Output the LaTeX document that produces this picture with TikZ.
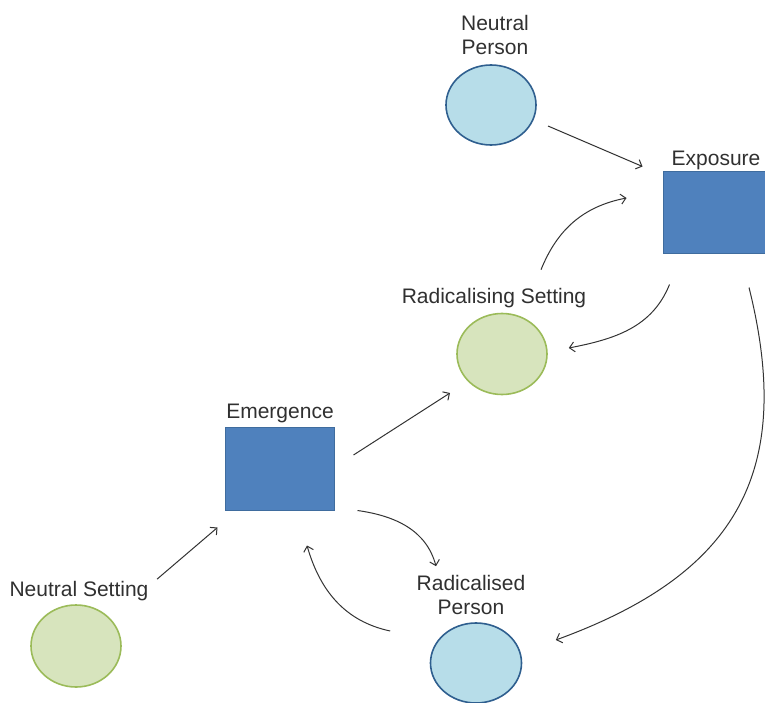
\documentclass[tikz,border=0pt]{standalone}
\usepackage{fontspec}
\setmainfont{Liberation Sans}
\usetikzlibrary{arrows.meta,shapes.geometric}
\definecolor{pfill}{HTML}{B7DDE9}
\definecolor{pdraw}{HTML}{2F5F8F}
\definecolor{sfill}{HTML}{D7E4BD}
\definecolor{sdraw}{HTML}{9BBB59}
\definecolor{bfill}{HTML}{4F81BD}
\definecolor{bdraw}{HTML}{3F6C9E}
\definecolor{txt}{HTML}{303030}
\definecolor{arrc}{HTML}{333333}
\begin{document}
\begin{tikzpicture}[x=1pt,y=1pt,
  person/.style={ellipse,draw=pdraw,fill=pfill,line width=1.6pt,minimum width=90pt,minimum height=80pt,inner sep=0pt},
  setting/.style={ellipse,draw=sdraw,fill=sfill,line width=1.6pt,minimum width=90pt,minimum height=81pt,inner sep=0pt},
  stage/.style={rectangle,draw=bdraw,fill=bfill,line width=1pt,inner sep=0pt},
  lbl/.style={anchor=north,inner sep=0pt,align=center,text=txt,font=\fontsize{21}{24.5}\selectfont},
  arr/.style={draw=arrc,line width=1pt,-{Straight Barb[length=5pt,width=10pt]}}
]
\useasboundingbox (0,0) rectangle (765,-703);
% shapes
\node[person] (np) at (491,-105) {};
\node[stage,minimum width=102pt,minimum height=82pt] (exp) at (714,-213) {};
\node[setting] (rs) at (502,-354) {};
\node[stage,minimum width=109pt,minimum height=83pt] (em) at (279.5,-468.5) {};
\node[setting,minimum height=82pt] (ns) at (76,-646) {};
\node[person,minimum width=91pt] (rp) at (476,-663) {};
% labels
\node[lbl] (npl) at (495,-15) {Neutral\\Person};
\node[lbl] (expl) at (716,-151) {Exposure};
\node[lbl] (rsl) at (494,-288) {Radicalising Setting};
\node[lbl] (eml) at (280,-404) {Emergence};
\node[lbl] (nsl) at (79,-581) {Neutral Setting};
\node[lbl] (rpl) at (471,-575) {Radicalised\\Person};
% connectors
\draw[arr] ([shift={(57,-21)}]np.center) -- ([shift={(-20,5)}]exp.north west);
\draw[arr] ([shift={(39,43)}]rs.north) to[out=68,in=191] ([shift={(-36,15)}]exp.west);
\draw[arr] ([shift={(7,-30)}]exp.south west) to[out=248,in=11] ([shift={(21,6)}]rs.east);
\draw[arr] ([shift={(35,-33)}]exp.south) to[out=-76,in=20,looseness=1.22] ([shift={(33.5,23)}]rp.east);
\draw[arr] ([shift={(19,13.5)}]em.east) -- ([shift={(-52,-39)}]rs.center);
\draw[arr] ([shift={(23,0)}]em.south east) to[out=-8,in=105] ([shift={(-40,56)}]rp.north);
\draw[arr] ([shift={(-39.5,32)}]rp.west) to[out=168,in=-74] ([shift={(27.5,-35)}]em.south);
\draw[arr] ([shift={(81,25)}]ns.north) -- ([shift={(-7,-17)}]em.south west);
\end{tikzpicture}
\end{document}
